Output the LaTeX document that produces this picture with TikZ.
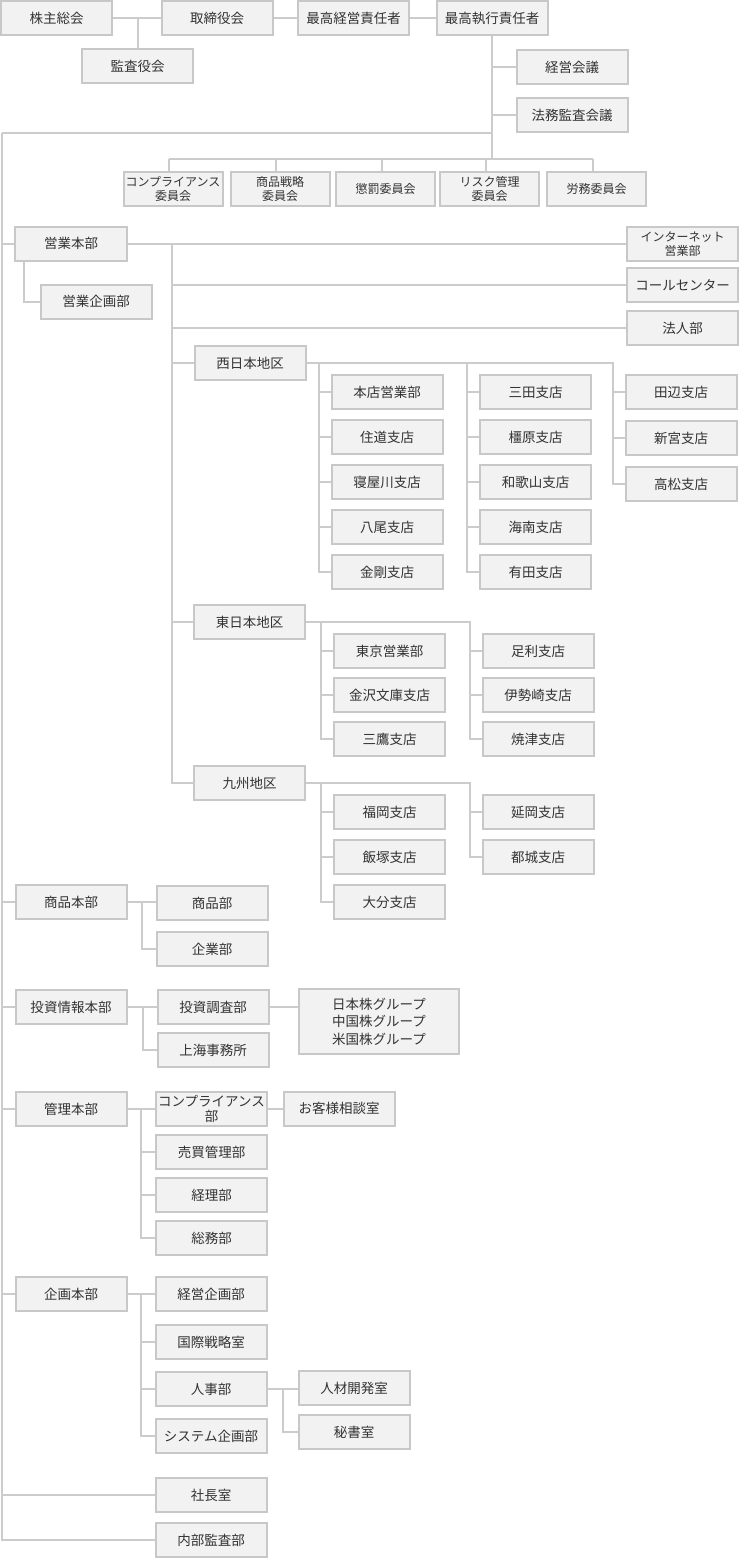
\documentclass[tikz,border=0pt]{standalone}
\usepackage{fontspec}
\setmainfont{Noto Sans CJK JP}
\begin{document}
\begin{tikzpicture}[x=1pt, y=-1pt]
    \definecolor{lineclr}{RGB}{204,204,204}
    \definecolor{boxdraw}{RGB}{200,200,200}
    \definecolor{boxfill}{RGB}{242,242,242}
    \definecolor{txtclr}{RGB}{51,51,51}

    \tikzstyle{box}   = [draw=boxdraw, fill=boxfill, line width=2pt, inner sep=0pt,
                         minimum width=111pt, minimum height=34pt, align=center,
                         text=txtclr, font=\fontsize{13.5}{15}\selectfont]
    \tikzstyle{small} = [font=\fontsize{12}{14}\selectfont]
    \tikzstyle{con}   = [draw=lineclr, line width=2pt]

    \useasboundingbox (0,0) rectangle (740,1560);

    % Top management
    \node[box] (kabu)  at (56.5,18.5) {株主総会};
    \node[box] (tori)  at (217,18.5)  {取締役会};
    \node[box] (kansa) at (137.5,66)  {監査役会};
    \node[box] (ceo)   at (353.5,18.5) {最高経営責任者};
    \node[box] (coo)   at (492,18.5)  {最高執行責任者};
    \node[box] (keiei) at (572,67)    {経営会議};
    \node[box] (houmu) at (572,115)   {法務監査会議};

    \draw[con] (kabu.east) -- (tori.west);
    \draw[con] (kansa.north) -- (kansa.north |- kabu.east);
    \draw[con] (tori.east) -- (ceo.west);
    \draw[con] (ceo.east) -- (coo.west);

    % Committees
    \coordinate (cbus) at (492,159);
    \foreach \nm/\x/\txt in {ci1/173/{コンプライアンス\\委員会}, ci2/280/{商品戦略\\委員会},
                             ci3/385.5/{懲罰委員会}, ci4/489.5/{リスク管理\\委員会},
                             ci5/596.5/{労務委員会}} {
        \node[box, small, minimum width=99pt] (\nm) at (\x,189) {\txt};
        \draw[con] ([xshift=-4pt]\nm.north) -- ([xshift=-4pt]\nm.north |- cbus);
    }
    \draw[con] (coo.south) -- (cbus);
    \draw[con] ([xshift=-4pt]ci1.north |- cbus) -- ([xshift=-4pt]ci5.north |- cbus);
    \draw[con] (keiei.west) -- (keiei.west -| coo.south);
    \draw[con] (houmu.west) -- (houmu.west -| coo.south);

    % Left trunk
    \coordinate (trunk) at (2,133);
    \draw[con] (trunk) -- (trunk -| coo.south);

    % Sales
    \node[box, minimum width=112pt] (eigyo) at (71,243.5) {営業本部};
    \node[box] (eikikaku) at (96,301.5)   {営業企画部};
    \node[box, small] (inet) at (682.5,244) {インターネット\\営業部};
    \node[box] (call)     at (682.5,285)  {コールセンター};
    \node[box] (houjin)   at (682.5,328)  {法人部};
    \node[box] (nishi)    at (250,363)    {西日本地区};
    \node[box] (higashi)  at (249.5,622)  {東日本地区};
    \node[box] (kyushu)   at (249.5,783)  {九州地区};

    \draw[con] (eigyo.west -| trunk) -- (eigyo.west);
    \draw[con] ([xshift=-47pt]eigyo.south) |- (eikikaku.west);
    \draw[con] (eigyo.east) -- (eigyo.east -| inet.west);
    \coordinate (sv) at (172,243.5);
    \draw[con] (sv) |- (kyushu.west);
    \foreach \n in {call, houjin, nishi, higashi}
        \draw[con] (sv |- \n.west) -- (\n.west);

    % Branches
    \foreach[count=\r] \nume in {本店営業部,住道支店,寝屋川支店,八尾支店,金剛支店}
        \node[box] (wa\r) at (387,347+45*\r) {\nume};
    \foreach[count=\r] \nume in {三田支店,橿原支店,和歌山支店,海南支店,有田支店}
        \node[box] (wb\r) at (535.5,347+45*\r) {\nume};
    \foreach[count=\r] \nume in {田辺支店,新宮支店,高松支店}
        \node[box] (wc\r) at (681,346+46*\r) {\nume};
    \foreach[count=\r] \nume in {東京営業部,金沢文庫支店,三鷹支店}
        \node[box] (ea\r) at (389.5,607+44*\r) {\nume};
    \foreach[count=\r] \nume in {足利支店,伊勢崎支店,焼津支店}
        \node[box] (eb\r) at (538,607+44*\r) {\nume};
    \foreach[count=\r] \nume in {福岡支店,飯塚支店,大分支店}
        \node[box] (ka\r) at (389.5,767+45*\r) {\nume};
    \foreach[count=\r] \nume in {延岡支店,都城支店}
        \node[box] (kb\r) at (538,767+45*\r) {\nume};

    \foreach \col/\nr/\head in {wa/5/nishi, wb/5/nishi, wc/3/nishi,
                                ea/3/higashi, eb/3/higashi, ka/3/kyushu, kb/2/kyushu} {
        \coordinate (d) at ([xshift=-12pt]\col1.west);
        \draw[con] (\head.east) -- (d |- \head.east) |- (\col\nr.west);
        \foreach \r in {1,...,\nr}
            \draw[con] (\col\r.west) -- (d |- \col\r.west);
    }

    % Other divisions
    \node[box] (shohon)   at (71,902)     {商品本部};
    \node[box] (shobu)    at (212,903)    {商品部};
    \node[box] (kigyo)    at (212,949)    {企業部};
    \node[box] (toshi)    at (71,1007)    {投資情報本部};
    \node[box] (chosa)    at (213,1007)   {投資調査部};
    \node[box] (shanghai) at (213,1050)   {上海事務所};
    \node[box, minimum width=160pt, minimum height=65pt, font=\fontsize{13.5}{17.5}\selectfont]
        (kabugr) at (379,1021.5) {日本株グループ\\中国株グループ\\米国株グループ};
    \node[box] (kanri)    at (71,1109)    {管理本部};
    \node[box] (compbu)   at (211.5,1109) {コンプライアンス\\部};
    \node[box] (okyaku)   at (339,1108.5) {お客様相談室};
    \node[box] (baibai)   at (211.5,1152) {売買管理部};
    \node[box] (keiri)    at (211.5,1195) {経理部};
    \node[box] (somu)     at (211.5,1238) {総務部};
    \node[box] (kikaku)   at (71,1294)    {企画本部};
    \node[box] (keikiku)  at (211,1294)   {経営企画部};
    \node[box] (kokusai)  at (211,1342)   {国際戦略室};
    \node[box] (jinji)    at (211,1389)   {人事部};
    \node[box] (system)   at (211,1436)   {システム企画部};
    \node[box] (jinzai)   at (354,1388)   {人材開発室};
    \node[box] (hisho)    at (354,1432)   {秘書室};
    \node[box] (shacho)   at (211,1495)   {社長室};
    \node[box] (naibu)    at (211,1540)   {内部監査部};

    \foreach \head/\first/\rest in {shohon/shobu/{kigyo}, toshi/chosa/{shanghai},
                                    kanri/compbu/{baibai,keiri,somu},
                                    kikaku/keikiku/{kokusai,jinji,system}} {
        \draw[con] (\head.west -| trunk) -- (\head.west);
        \draw[con] (\head.east) -- (\head.east -| \first.west);
        \coordinate (d) at ([xshift=-14pt]\first.west);
        \foreach \ch in \rest
            \draw[con] (d) |- (\ch.west);
    }
    \draw[con] (chosa.east) -- (chosa.east -| kabugr.west);
    \draw[con] (compbu.east) -- (compbu.east -| okyaku.west);
    \draw[con] (jinji.east) -- (jinji.east -| jinzai.west);
    \draw[con] ([xshift=-15pt]jinzai.west) |- (hisho.west);
    \draw[con] (shacho.west -| trunk) -- (shacho.west);
    \draw[con] (trunk) |- (naibu.west);
\end{tikzpicture}
\end{document}
